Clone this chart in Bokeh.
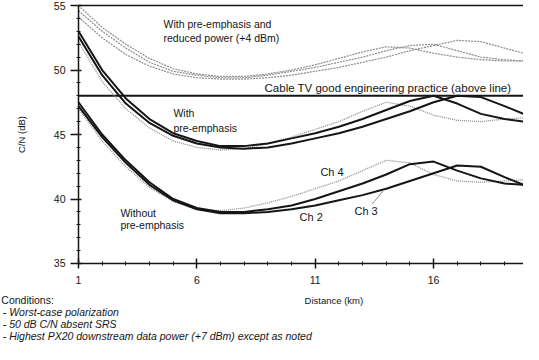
from bokeh.plotting import figure
from bokeh.models import Range1d, Label, FixedTicker
from bokeh.embed import file_html
from bokeh.resources import INLINE

# ---- data ----
km = [1, 2, 3, 4, 5, 6, 7, 8, 9, 10, 11, 12, 13, 14, 15, 16, 17, 18, 19, 19.8]

# Without pre-emphasis
wo_ch2 = [47.5, 45.0, 43.0, 41.3, 40.0, 39.3, 39.0, 39.0, 39.2, 39.5, 40.0, 40.6, 41.2, 41.9, 42.7, 42.9, 42.2, 41.6, 41.2, 41.1]
wo_ch3 = [47.2, 44.8, 42.8, 41.1, 39.9, 39.2, 38.9, 38.9, 39.0, 39.2, 39.5, 39.9, 40.3, 40.8, 41.4, 42.0, 42.6, 42.5, 41.7, 41.1]
wo_ch4 = [47.0, 44.5, 42.5, 40.9, 39.8, 39.2, 39.1, 39.3, 39.7, 40.2, 40.8, 41.4, 42.2, 43.0, 42.8, 41.9, 41.4, 41.3, 41.4, 41.5]

# With pre-emphasis
pe_ch2 = [53.0, 50.0, 47.8, 46.2, 45.1, 44.5, 44.1, 44.1, 44.3, 44.7, 45.1, 45.6, 46.2, 46.9, 47.6, 48.0, 47.4, 46.6, 46.2, 46.0]
pe_ch3 = [52.6, 49.6, 47.4, 45.9, 44.9, 44.3, 44.0, 43.9, 44.0, 44.3, 44.7, 45.1, 45.6, 46.2, 46.8, 47.5, 48.0, 47.9, 47.2, 46.6]
pe_ch4 = [52.2, 49.1, 47.0, 45.5, 44.5, 44.0, 43.8, 43.9, 44.3, 44.8, 45.4, 46.0, 46.8, 47.5, 47.2, 46.5, 46.1, 46.0, 46.2, 46.3]

# With pre-emphasis and reduced power (+4 dBm)
rp_ch4 = [55.0, 53.3, 52.0, 50.9, 50.1, 49.7, 49.5, 49.5, 49.7, 50.0, 50.4, 50.9, 51.4, 51.8, 51.7, 51.3, 51.0, 50.8, 50.7, 50.7]
rp_ch2 = [54.6, 53.0, 51.7, 50.6, 49.9, 49.6, 49.4, 49.4, 49.6, 49.9, 50.2, 50.6, 51.0, 51.5, 51.9, 52.0, 51.5, 51.0, 50.8, 50.7]
rp_ch3 = [54.1, 52.5, 51.2, 50.3, 49.7, 49.4, 49.3, 49.3, 49.4, 49.6, 49.9, 50.2, 50.6, 51.0, 51.5, 51.9, 52.3, 52.2, 51.7, 51.3]

good_practice = 48
y_top = 55
y_bottom = 35
x_ticks = [1, 6, 11, 16]
y_ticks = [35, 40, 45, 50, 55]

conditions = [
    "Conditions:",
    "- Worst-case polarization",
    "- 50 dB C/N absent SRS",
    "- Highest PX20 downstream data power (+7 dBm) except as noted",
]

FONT = "Liberation Sans"
BLACK = "#151515"
GRAY = "#8c8c8c"

# frame covers the whole canvas; axes are drawn at fixed data locations
p = figure(width=523, height=344, output_backend="svg", toolbar_location=None,
           x_range=Range1d(-2.295, 19.8), y_range=Range1d(28.72, 55.39))
p.min_border = 0
p.min_border_left = 0
p.min_border_right = 0
p.min_border_top = 0
p.min_border_bottom = 0
p.outline_line_color = None
p.xgrid.visible = False
p.ygrid.visible = False
p.background_fill_color = "white"
p.border_fill_color = "white"

p.xaxis.fixed_location = y_bottom
p.yaxis.fixed_location = km[0]
p.xaxis.bounds = (km[0], km[-1])
p.yaxis.bounds = (y_bottom, y_top)
p.xaxis.ticker = FixedTicker(ticks=x_ticks, minor_ticks=list(range(1, 21)))
p.yaxis.ticker = FixedTicker(ticks=y_ticks, minor_ticks=list(range(35, 56)))
for ax in (p.xaxis[0], p.yaxis[0]):
    ax.axis_line_color = BLACK
    ax.axis_line_width = 1.5
    ax.major_tick_line_color = BLACK
    ax.major_tick_line_width = 1.5
    ax.minor_tick_line_color = BLACK
    ax.minor_tick_in = 2
    ax.minor_tick_out = 2
    ax.major_label_text_font = FONT
    ax.major_label_text_font_size = "10.5px"
    ax.major_label_text_color = BLACK
p.xaxis.major_tick_in = 5
p.xaxis.major_tick_out = 5
p.xaxis.major_label_standoff = 8
p.yaxis.major_tick_in = 3
p.yaxis.major_tick_out = 8
p.yaxis.major_label_standoff = 5

# top border line and good engineering practice line
p.line([km[0], km[-1]], [y_top, y_top], line_color=BLACK, line_width=1.5)
p.line([km[0], km[-1]], [good_practice, good_practice], line_color=BLACK, line_width=2)

# curves
for ys in (wo_ch4, pe_ch4):
    p.line(km, ys, line_color=GRAY, line_width=1.3, line_dash="1 1")
for ys in (wo_ch2, wo_ch3, pe_ch2, pe_ch3):
    p.line(km, ys, line_color=BLACK, line_width=2)
for ys in (rp_ch4, rp_ch2, rp_ch3):
    p.line(km, ys, line_color=GRAY, line_width=1.2, line_dash="2 1")

# Ch 3 pointer
p.segment(x0=[13.4], y0=[39.6], x1=[13.9], y1=[40.7], line_color=GRAY, line_width=1)


def note(x, y, t, style="normal", size="10.5px", align="left", angle=0):
    p.add_layout(Label(x=x, y=y, text=t, text_font=FONT, text_font_size=size,
                       text_font_style=style, text_color=BLACK, text_baseline="middle",
                       text_align=align, angle=angle))


note(4.59, 53.6, "With pre-emphasis and")
note(4.59, 52.52, "reduced power (+4 dBm)")
note(8.86, 48.64, "Cable TV good engineering practice (above line)", size="11.5px")
note(5.01, 46.63, "With")
note(5.01, 45.47, "pre-emphasis")
note(2.77, 38.95, "Without")
note(2.77, 38.02, "pre-emphasis")
note(11.22, 42.13, "Ch 4", size="11px")
note(10.34, 38.57, "Ch 2", size="11px")
note(12.66, 39.1, "Ch 3", size="11px")
note(10.55, 32.1, "Distance (km)", size="9.5px")
note(-1.41, 45.0, "C/N (dB)", size="9.5px", align="center", angle=1.5708)

cy = [32.2, 31.25, 30.3, 29.35]
cx = [-2.26, -2.2, -2.2, -2.2]
for i, t in enumerate(conditions):
    note(cx[i], cy[i], t, style="normal" if i == 0 else "italic", size="10.5px")

open("out.html", "w").write(file_html(p, INLINE))
